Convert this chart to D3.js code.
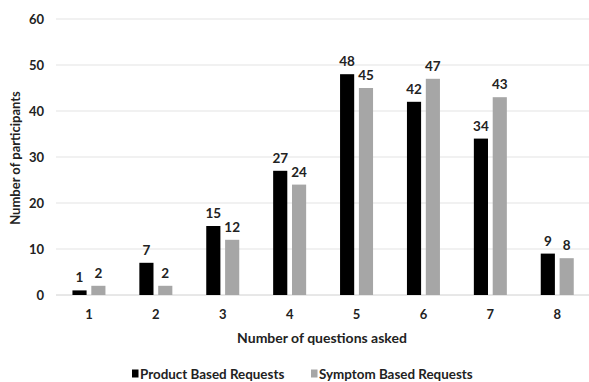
<!DOCTYPE html>
<html>
<head>
<meta charset="utf-8">
<script src="https://cdn.jsdelivr.net/npm/d3@7"></script>
<style>
  body { margin: 0; background: #fff; }
  text { font-family: Lato, "Open Sans", sans-serif; font-weight: bold; fill: #222; }
</style>
</head>
<body>
<div id="chart"></div>
<script>
// data
var categories = ["1", "2", "3", "4", "5", "6", "7", "8"];
var seriesNames = ["Product Based Requests", "Symptom Based Requests"];
var productValues = [1, 7, 15, 27, 48, 42, 34, 9];
var symptomValues = [2, 2, 12, 24, 45, 47, 43, 8];
var yTicks = [0, 10, 20, 30, 40, 50, 60];
var colors = ["#000000", "#a6a6a6"];

var width = 589, height = 382;

var svg = d3.select("#chart")
  .append("svg")
  .attr("width", width)
  .attr("height", height);

var x = d3.scaleBand()
  .domain(categories)
  .range([55.5, 590.7])
  .padding(0);

var xSeries = d3.scaleBand()
  .domain(seriesNames)
  .range([-16.5, 16.5])
  .paddingInner(0.25);

var y = d3.scaleLinear()
  .domain([0, 60])
  .range([295, 19]);

// gridlines
svg.append("g")
  .selectAll("line")
  .data(yTicks)
  .join("line")
  .attr("x1", 56)
  .attr("x2", 589)
  .attr("y1", function(d) { return y(d); })
  .attr("y2", function(d) { return y(d); })
  .style("stroke", function(d) { return d === 0 ? "#d0d0d0" : "#e3e3e3"; })
  .style("stroke-width", 1);

// y tick labels
svg.append("g")
  .selectAll("text")
  .data(yTicks)
  .join("text")
  .attr("x", 44)
  .attr("y", function(d) { return y(d); })
  .attr("dy", "0.35em")
  .style("text-anchor", "end")
  .style("font-size", "13px")
  .text(function(d) { return d; });

// x tick labels
svg.append("g")
  .selectAll("text")
  .data(categories)
  .join("text")
  .attr("x", function(d) { return x(d) + x.bandwidth() / 2; })
  .attr("y", 314)
  .attr("dy", "0.35em")
  .style("text-anchor", "middle")
  .style("font-size", "13px")
  .text(function(d) { return d; });

var allSeries = [productValues, symptomValues];

allSeries.forEach(function(vals, si) {
  var g = svg.append("g");
  var rows = categories.map(function(c, i) { return { cat: c, value: vals[i] }; });

  g.selectAll("rect")
    .data(rows)
    .join("rect")
    .attr("x", function(d) { return x(d.cat) + x.bandwidth() / 2 + xSeries(seriesNames[si]); })
    .attr("y", function(d) { return y(d.value); })
    .attr("width", xSeries.bandwidth())
    .attr("height", function(d) { return y(0) - y(d.value); })
    .style("fill", colors[si]);

  g.selectAll("text")
    .data(rows)
    .join("text")
    .attr("x", function(d) { return x(d.cat) + x.bandwidth() / 2 + xSeries(seriesNames[si]) + xSeries.bandwidth() / 2; })
    .attr("y", function(d) { return y(d.value) - 8; })
    .style("text-anchor", "middle")
    .style("font-size", "13.5px")
    .text(function(d) { return d.value; });
});

// axis titles
svg.append("text")
  .attr("x", 322)
  .attr("y", 338)
  .attr("dy", "0.35em")
  .style("text-anchor", "middle")
  .style("font-size", "14px")
  .text("Number of questions asked");

svg.append("text")
  .attr("transform", "translate(15," + 158 + ") rotate(-90)")
  .attr("dy", "0.35em")
  .style("text-anchor", "middle")
  .style("font-size", "13px")
  .text("Number of participants");

// legend
var legendX = [132, 311];
var legend = svg.append("g");
seriesNames.forEach(function(name, i) {
  legend.append("rect")
    .attr("x", legendX[i])
    .attr("y", 369.5)
    .attr("width", 6.5)
    .attr("height", 8)
    .style("fill", colors[i]);
  legend.append("text")
    .attr("x", legendX[i] + 8)
    .attr("y", 374)
    .attr("dy", "0.35em")
    .style("font-size", "13.4px")
    .text(name);
});
</script>
</body>
</html>
